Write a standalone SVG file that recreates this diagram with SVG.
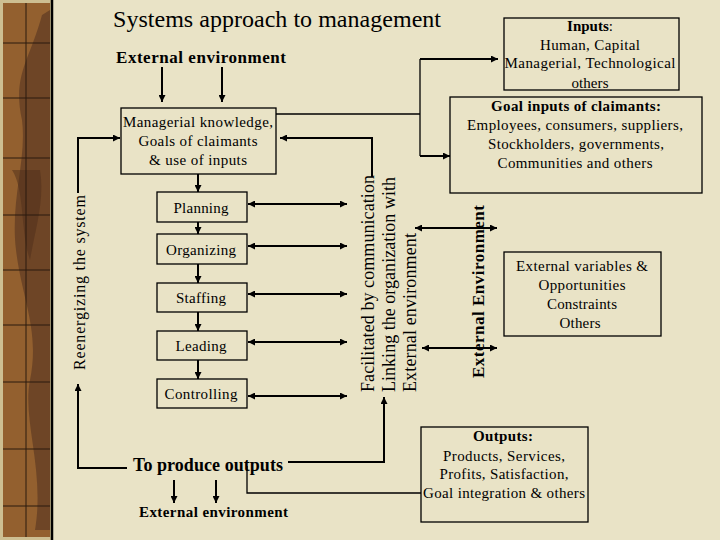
<svg xmlns="http://www.w3.org/2000/svg" width="720" height="540" viewBox="0 0 720 540" font-family="'Liberation Serif', 'Times New Roman', serif">
<defs>
<marker id="ah" viewBox="0 0 10 10" refX="10" refY="5" markerWidth="8" markerHeight="7" markerUnits="userSpaceOnUse" orient="auto-start-reverse">
<path d="M0,0 L10,5 L0,10 z" fill="#000"/>
</marker>
<style>
text{fill:#000}
.t{font-size:15px;text-anchor:middle}
.b{font-weight:bold}
.box{fill:none;stroke:#000;stroke-width:1.3}
.a{fill:none;stroke:#000;stroke-width:2;marker-end:url(#ah)}
.d{fill:none;stroke:#000;stroke-width:2;marker-end:url(#ah);marker-start:url(#ah)}
.l{fill:none;stroke:#000;stroke-width:1.3}
.g{stroke:#2a1a0e;stroke-width:1}
</style>
</defs>
<rect width="720" height="540" fill="#e9e3c6"/>
<g id="border">
<rect x="0" y="0" width="53" height="540" fill="#cdbf92"/>
<rect x="3" y="3" width="47" height="534" fill="#93602f"/>
<path d="M42,15 C30,60 12,75 22,120 C27,160 10,200 16,250 C22,300 40,330 30,380 C22,420 45,470 35,530 L50,530 L50,10 Z" fill="#5e3a22" opacity="0.7"/>
<path d="M12,170 C25,190 20,230 30,260 C35,230 45,200 40,170 Z" fill="#4e2e1a" opacity="0.5"/>
<line class="g" x1="26" y1="3" x2="26" y2="537"/>
<line class="g" x1="3" y1="43" x2="50" y2="43"/>
<line class="g" x1="3" y1="98" x2="50" y2="98"/>
<line class="g" x1="3" y1="158" x2="50" y2="158"/>
<line class="g" x1="3" y1="215" x2="50" y2="215"/>
<line class="g" x1="3" y1="270" x2="50" y2="270"/>
<line class="g" x1="3" y1="325" x2="50" y2="325"/>
<line class="g" x1="3" y1="382" x2="50" y2="382"/>
<line class="g" x1="3" y1="449" x2="50" y2="449"/>
<line class="g" x1="3" y1="506" x2="50" y2="506"/>
<line x1="52" y1="0" x2="52" y2="540" stroke="#000" stroke-width="2.5"/>
</g>
<g id="title">
<text x="113" y="27" font-size="24" textLength="328">Systems approach to management</text>
</g>
<g id="ext-top">
<text x="116" y="63" font-size="17" class="b" textLength="170">External environment</text>
</g>
<g id="managerial">
<rect class="box" x="121" y="108" width="155" height="66"/>
<text class="t" x="198" y="127" textLength="150">Managerial knowledge,</text>
<text class="t" x="198" y="146" textLength="119">Goals of claimants</text>
<text class="t" x="198" y="165" textLength="98">&amp; use of inputs</text>
</g>
<g id="planning">
<rect class="box" x="157" y="192" width="90" height="30"/>
<text class="t" x="201" y="213" textLength="55">Planning</text>
</g>
<g id="organizing">
<rect class="box" x="157" y="234" width="90" height="30"/>
<text class="t" x="201" y="255" textLength="70">Organizing</text>
</g>
<g id="staffing">
<rect class="box" x="157" y="283" width="90" height="29"/>
<text class="t" x="201" y="303" textLength="50">Staffing</text>
</g>
<g id="leading">
<rect class="box" x="157" y="331" width="90" height="29"/>
<text class="t" x="201" y="351" textLength="51">Leading</text>
</g>
<g id="controlling">
<rect class="box" x="157" y="379" width="90" height="29"/>
<text class="t" x="201" y="399" textLength="73">Controlling</text>
</g>
<g id="facilitated">
<text font-size="18" transform="translate(374,392) rotate(-90)" textLength="217">Facilitated by communication</text>
<text font-size="18" transform="translate(395,392) rotate(-90)" textLength="215">Linking the organization with</text>
<text font-size="18" transform="translate(416,392) rotate(-90)" textLength="159">External environment</text>
</g>
<g id="reenergizing">
<text font-size="16" transform="translate(85,370) rotate(-90)" textLength="175">Reenergizing the system</text>
</g>
<g id="ext-env-vertical">
<text font-size="17" class="b" transform="translate(484,378) rotate(-90)" textLength="173">External Environment</text>
</g>
<g id="inputs">
<rect class="box" x="504" y="18" width="175" height="72"/>
<text class="t" x="590" y="31"><tspan class="b">Inputs</tspan>:</text>
<text class="t" x="590" y="50" textLength="100">Human, Capital</text>
<text class="t" x="590" y="68" textLength="171">Managerial, Technological</text>
<text class="t" x="590" y="88" textLength="37">others</text>
</g>
<g id="goal-inputs">
<rect class="box" x="450" y="97" width="252" height="96"/>
<text class="t b" x="576" y="111" textLength="170">Goal inputs of claimants:</text>
<text class="t" x="575" y="130" textLength="216">Employees, consumers, suppliers,</text>
<text class="t" x="576" y="149" textLength="176">Stockholders, governments,</text>
<text class="t" x="575" y="168" textLength="155">Communities and others</text>
</g>
<g id="ext-variables">
<rect class="box" x="504" y="252" width="157" height="84"/>
<text class="t" x="582" y="271" textLength="132">External variables &amp;</text>
<text class="t" x="582" y="290" textLength="87">Opportunities</text>
<text class="t" x="582" y="309" textLength="70">Constraints</text>
<text class="t" x="580" y="328" textLength="41">Others</text>
</g>
<g id="outputs">
<rect class="box" x="421" y="427" width="167" height="95"/>
<text class="t b" x="503" y="441" textLength="60">Outputs:</text>
<text class="t" x="504" y="461" textLength="122">Products, Services,</text>
<text class="t" x="504" y="479" textLength="129">Profits, Satisfaction,</text>
<text class="t" x="504" y="498" textLength="162">Goal integration &amp; others</text>
</g>
<g id="produce">
<text x="133" y="471" font-size="18" class="b" textLength="150">To produce outputs</text>
</g>
<g id="ext-bottom">
<text x="139" y="517" font-size="15" class="b" textLength="149">External environment</text>
</g>
<g id="connectors">
<path class="a" d="M162,67 V102"/>
<path class="a" d="M222,67 V102"/>
<path class="a" d="M198,174 V192"/>
<path class="a" d="M198,222 V234"/>
<path class="a" d="M198,264 V283"/>
<path class="a" d="M198,312 V331"/>
<path class="a" d="M198,360 V379"/>
<path class="d" d="M248,204 H347"/>
<path class="d" d="M248,246 H347"/>
<path class="d" d="M248,294 H347"/>
<path class="d" d="M248,342 H347"/>
<path class="d" d="M248,396 H347"/>
<path class="a" d="M372,177 V138 H280"/>
<path class="l" d="M276,114 H420"/>
<path class="l" d="M420,59 V156"/>
<path class="a" d="M420,59 H498"/>
<path class="a" d="M420,156 H450"/>
<path class="d" d="M415,228 H497"/>
<path class="d" d="M422,348 H497"/>
<path class="a" d="M127,468 H78 V384"/>
<path class="a" d="M78,193 V138 H120"/>
<path class="a" d="M288,462 H384 V397"/>
<path class="l" d="M247,466 V493 H421"/>
<path class="a" d="M174,480 V503"/>
<path class="a" d="M216,480 V503"/>
</g>
</svg>
